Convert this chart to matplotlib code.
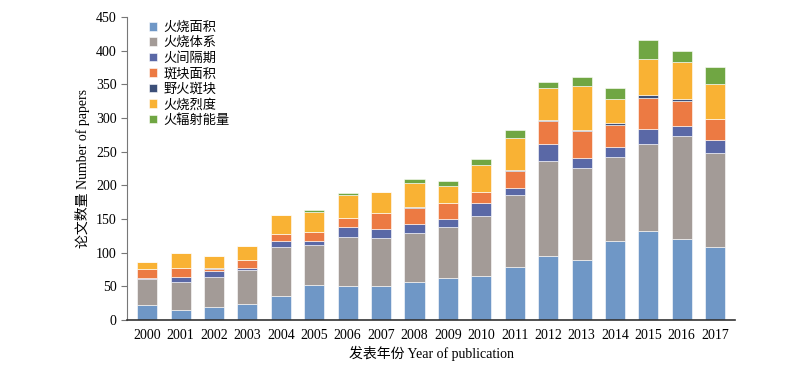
import numpy as np
import matplotlib.pyplot as plt

plt.rcParams['font.family'] = ['Liberation Serif', 'Noto Sans CJK SC']

years = [str(y) for y in range(2000, 2018)]
burned_area = [22, 15, 19, 24, 36, 52, 50, 50, 57, 63, 66, 79, 96, 89, 117, 132, 121, 109]
fire_regime = [39, 42, 45, 50, 72, 59, 73, 72, 72, 76, 89, 107, 140, 137, 125, 130, 153, 139]
fire_interval = [2, 7, 9, 4, 9, 6, 15, 13, 14, 11, 19, 10, 25, 15, 15, 22, 15, 19]
patch_area = [13, 14, 3, 11, 11, 14, 14, 24, 24, 24, 16, 26, 35, 40, 33, 46, 37, 31]
wildfire_patch = [0, 0, 1, 0, 0, 0, 0, 0, 1, 0, 0, 1, 1, 2, 2, 4, 2, 1]
severity = [11, 21, 18, 21, 28, 29, 34, 31, 36, 25, 40, 47, 47, 64, 37, 54, 56, 52]
frp = [0, 0, 0, 0, 0, 3, 3, 1, 6, 8, 9, 12, 9, 14, 15, 28, 15, 25]

labels = ['火烧面积', '火烧体系', '火间隔期', '斑块面积', '野火斑块', '火烧烈度', '火辐射能量']
colors = ['#6f97c6', '#a39b97', '#5a68a6', '#ec7a43', '#3c4f78', '#f9b234', '#70a643']
series = [burned_area, fire_regime, fire_interval, patch_area, wildfire_patch, severity, frp]

fig = plt.figure(figsize=(8, 3.71), dpi=100)
ax = fig.add_axes([0.159, 0.137, 0.76, 0.817])

x = np.arange(len(years))
bottom = np.zeros(len(years))
for vals, lab, col in zip(series, labels, colors):
    ax.bar(x, vals, 0.6, bottom=bottom, color=col, label=lab,
           edgecolor='white', linewidth=0.4)
    bottom += np.array(vals)

ax.set_ylim(0, 450)
ax.set_yticks(range(0, 451, 50))
ax.set_xlim(-0.6, len(years) - 0.4)
ax.set_xticks(x)
ax.set_xticklabels(years, fontsize=10)
ax.tick_params(axis='y', labelsize=10, direction='out', length=4, color='#777777')
ax.tick_params(axis='x', length=0, pad=6)
ax.spines['top'].set_visible(False)
ax.spines['right'].set_visible(False)
ax.spines['left'].set_color('#777777')
ax.spines['bottom'].set_color('#333333')
ax.spines['bottom'].set_linewidth(1.2)
ax.set_ylabel('论文数量 Number of papers', fontsize=10)
ax.set_xlabel('发表年份 Year of publication', fontsize=10, labelpad=3)

ax.legend(loc='upper left', bbox_to_anchor=(0.02, 1.015), frameon=False, fontsize=9.5,
          handlelength=0.6, handleheight=0.6, handletextpad=0.5, labelspacing=0.22,
          borderaxespad=0.3)

plt.savefig('out.png', dpi=100)
